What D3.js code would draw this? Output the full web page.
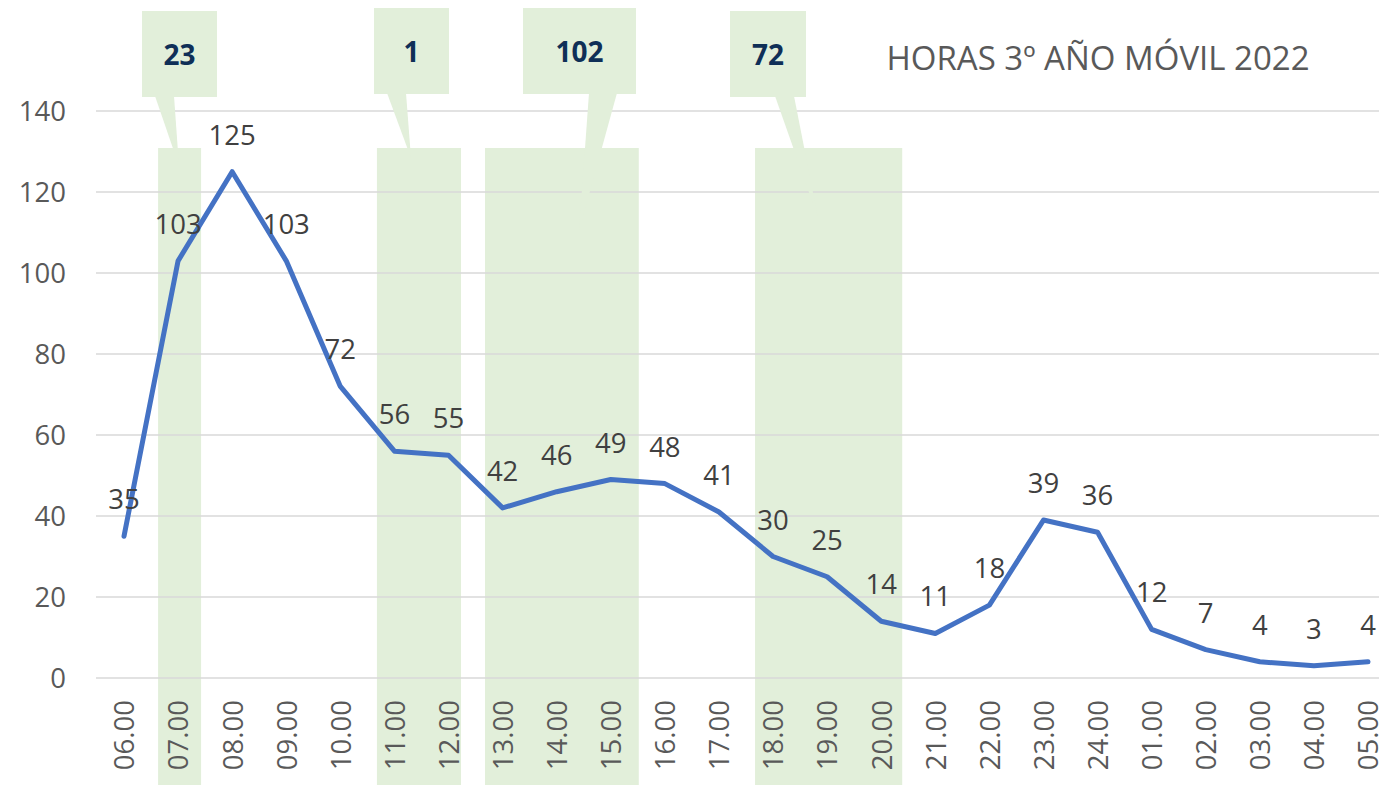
<!DOCTYPE html>
<html>
<head>
<meta charset="utf-8">
<script src="https://cdn.jsdelivr.net/npm/d3@7"></script>
<style>
  html, body { margin: 0; padding: 0; background: #fff; }
  svg { display: block; font-family: "Open Sans", "Noto Sans", sans-serif; }
</style>
</head>
<body>
<svg id="chart" width="1379" height="785"></svg>
<script>
// Hours of the day, starting at 06.00
const hours = ["06.00","07.00","08.00","09.00","10.00","11.00","12.00","13.00","14.00","15.00",
               "16.00","17.00","18.00","19.00","20.00","21.00","22.00","23.00","24.00",
               "01.00","02.00","03.00","04.00","05.00"];
// Hours counted per time slot
const values = [35,103,125,103,72,56,55,42,46,49,48,41,30,25,14,11,18,39,36,12,7,4,3,4];
// Y axis ticks
const yTicks = [0,20,40,60,80,100,120,140];
// Highlighted time windows and the total shown in each callout
const windowFrom  = ["07.00","11.00","13.00","18.00"];
const windowTo    = ["07.00","12.00","15.00","20.00"];
const windowTotal = [23, 1, 102, 72];
const title = "HORAS 3º AÑO MÓVIL 2022";

// Shape geometry for the highlight bands and their callouts (pixel offsets)
const bandGeom = [
  {dl: -20, dr: 23},
  {dl: -17.5, dr: 12.5},
  {dl: -17.6, dr: 28},
  {dl: -18, dr: 21}
];
const calloutGeom = [
  {x0: 142, x1: 217, y0: 11, y1: 97, b0: 155, b1: 174, tx: 179, ty: 166},
  {x0: 374, x1: 449, y0: 8,  y1: 94, b0: 387, b1: 406, tx: 411, ty: 158},
  {x0: 523, x1: 636, y0: 8,  y1: 94, b0: 589, b1: 617, tx: 579, ty: 231},
  {x0: 730, x1: 806, y0: 11, y1: 97, b0: 775, b1: 794, tx: 818, ty: 218}
];

const svg = d3.select("#chart");
const green = "#e2efda";
const fs = 27.5;

const x = d3.scalePoint().domain(hours).range([124, 1368]);
const y = d3.scaleLinear().domain([0, 140]).range([678, 111]);

// Highlight bands
svg.append("g").selectAll("rect")
  .data(windowFrom)
  .join("rect")
  .attr("x", (d, i) => x(d) + bandGeom[i].dl)
  .attr("width", (d, i) => x(windowTo[i]) + bandGeom[i].dr - (x(d) + bandGeom[i].dl))
  .attr("y", 148)
  .attr("height", 785 - 148)
  .attr("fill", green);

// Gridlines
svg.append("g").selectAll("line")
  .data(yTicks)
  .join("line")
  .attr("x1", 96).attr("x2", 1379)
  .attr("y1", d => y(d)).attr("y2", d => y(d))
  .attr("stroke", "#d9d9d9")
  .attr("stroke-width", 1.6);

// Y axis labels
const yAxis = d3.axisLeft(y).tickValues(yTicks).tickSize(0).tickPadding(0).tickFormat(d3.format("d"));
svg.append("g")
  .attr("transform", "translate(66,0)")
  .call(yAxis)
  .call(g => g.select(".domain").remove())
  .call(g => g.selectAll("text")
    .attr("font-family", "Open Sans")
    .attr("font-size", fs)
    .attr("fill", "#595959")
    .attr("dy", "0.357em"));

// X axis labels (rotated)
const xAxis = d3.axisBottom(x).tickSize(0).tickPadding(0);
svg.append("g")
  .attr("transform", "translate(0,700)")
  .call(xAxis)
  .call(g => g.select(".domain").remove())
  .call(g => g.selectAll("text")
    .attr("font-family", "Open Sans")
    .attr("font-size", fs)
    .attr("fill", "#595959")
    .attr("text-anchor", "end")
    .attr("y", 0)
    .attr("dy", "0.357em")
    .attr("transform", "rotate(-90)"));

// Callouts
const callouts = svg.append("g");
windowTotal.forEach((v, i) => {
  const c = calloutGeom[i];
  callouts.append("rect")
    .attr("x", c.x0).attr("y", c.y0)
    .attr("width", c.x1 - c.x0).attr("height", c.y1 - c.y0)
    .attr("fill", green);
  callouts.append("path")
    .attr("d", `M${c.b0},${c.y1 - 1}L${c.b1},${c.y1 - 1}L${c.tx},${c.ty}Z`)
    .attr("fill", green);
  callouts.append("text")
    .attr("x", (c.x0 + c.x1) / 2)
    .attr("y", (c.y0 + c.y1) / 2 + 11)
    .attr("text-anchor", "middle")
    .attr("font-size", 28)
    .attr("font-weight", "bold")
    .attr("fill", "#0f2f57")
    .text(v);
});

// Title
svg.append("text")
  .attr("x", 1098).attr("y", 70)
  .attr("text-anchor", "middle")
  .attr("font-size", 33)
  .attr("fill", "#595959")
  .text(title);

// Series line
const line = d3.line().x((d, i) => x(hours[i])).y(d => y(d));
svg.append("path")
  .datum(values)
  .attr("d", line)
  .attr("fill", "none")
  .attr("stroke", "#4472c4")
  .attr("stroke-width", 5)
  .attr("stroke-linejoin", "round")
  .attr("stroke-linecap", "round");

// Data labels
svg.append("g").selectAll("text")
  .data(values)
  .join("text")
  .attr("x", (d, i) => x(hours[i]))
  .attr("y", d => y(d) - 27)
  .attr("text-anchor", "middle")
  .attr("font-size", fs)
  .attr("fill", "#404040")
  .text(d => d);
</script>
</body>
</html>
